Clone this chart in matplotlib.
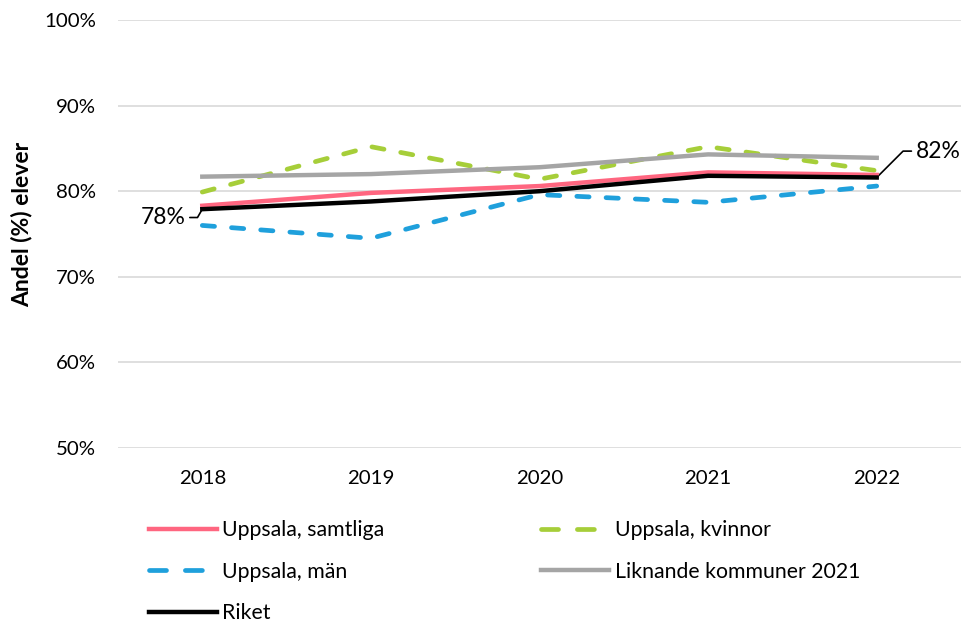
import matplotlib
matplotlib.use("Agg")
import matplotlib.pyplot as plt
from matplotlib.lines import Line2D
from matplotlib.ticker import FuncFormatter

plt.rcParams['font.family'] = ['Lato', 'DejaVu Sans']

years = ["2018", "2019", "2020", "2021", "2022"]
samtliga = [78.3, 79.8, 80.6, 82.2, 81.9]
kvinnor = [79.9, 85.2, 81.4, 85.2, 82.4]
man = [76.0, 74.5, 79.6, 78.7, 80.6]
liknande = [81.7, 82.0, 82.8, 84.3, 83.9]
riket = [77.9, 78.8, 80.0, 81.8, 81.6]

yticks = [50, 60, 70, 80, 90, 100]

fig = plt.figure(figsize=(9.73, 6.22), dpi=100)
ax = fig.add_axes([118/973, 1-448/622, (961-118)/973, (448-20)/622])

c_sam, c_kv, c_man, c_lik, c_rik = "#FF6680", "#A6CE39", "#1FA0DC", "#A5A5A5", "#000000"

x = list(range(len(years)))
lw = 3.2
dlw = 3.4
ax.plot(x, samtliga, color=c_sam, lw=lw, zorder=4)
ax.plot(x, kvinnor, color=c_kv, lw=dlw, dashes=(2.6, 3.6), dash_capstyle='round', zorder=3)
ax.plot(x, man, color=c_man, lw=dlw, dashes=(2.6, 3.6), dash_capstyle='round', zorder=3)
ax.plot(x, liknande, color=c_lik, lw=lw, zorder=3)
ax.plot(x, riket, color=c_rik, lw=lw, zorder=5)

ax.set_xlim(-0.5, len(years) - 0.5)
ax.set_ylim(50, 100)
ax.set_yticks(yticks)
ax.yaxis.set_major_formatter(FuncFormatter(lambda v, p: f"{v:.0f}%"))
ax.set_xticks(x)
ax.set_xticklabels(years)
ax.grid(axis='y', color="#D9D9D9", lw=1.2)
ax.set_axisbelow(True)
for s in ax.spines.values():
    s.set_visible(False)
ax.tick_params(axis='both', length=0, labelsize=14.7, colors="#000000")
ax.tick_params(axis='y', pad=16)
ax.tick_params(axis='x', pad=16)

fig.text(22/973, 1-224/622, "Andel (%) elever", rotation=90, fontsize=16.5,
         fontweight='bold', ha='center', va='center')

# data labels
ax.annotate(f"{riket[0]:.0f}%", xy=(0, riket[0]), xytext=(-12, -6), textcoords='offset points',
            ha='right', va='center', fontsize=16.5,
            arrowprops=dict(arrowstyle='-', color='black', lw=1.2, shrinkA=1, shrinkB=0,
                            connectionstyle='angle,angleA=0,angleB=60,rad=0'))
ax.annotate(f"{riket[-1]:.0f}%", xy=(4, riket[-1]), xytext=(28, 19), textcoords='offset points',
            ha='left', va='center', fontsize=16.5,
            arrowprops=dict(arrowstyle='-', color='black', lw=1.2, shrinkA=1, shrinkB=0,
                            connectionstyle='angle,angleA=0,angleB=45,rad=0'))

legdash = (3.6, 4.0)
handles = [
    Line2D([], [], color=c_sam, lw=lw),
    Line2D([], [], color=c_man, lw=dlw, dashes=legdash, dash_capstyle='round'),
    Line2D([], [], color=c_rik, lw=lw),
    Line2D([], [], color=c_kv, lw=dlw, dashes=legdash, dash_capstyle='round'),
    Line2D([], [], color=c_lik, lw=lw),
]
labels = ["Uppsala, samtliga", "Uppsala, män", "Riket", "Uppsala, kvinnor", "Liknande kommuner 2021"]
fig.legend(handles=handles, labels=labels, ncol=2,
           loc='upper left', bbox_to_anchor=(140/973, 1-512/622), frameon=False,
           fontsize=15.3, handlelength=3.2, handletextpad=0.25, columnspacing=7.4,
           labelspacing=1.0, borderaxespad=0)

fig.savefig("out.png", dpi=100)
